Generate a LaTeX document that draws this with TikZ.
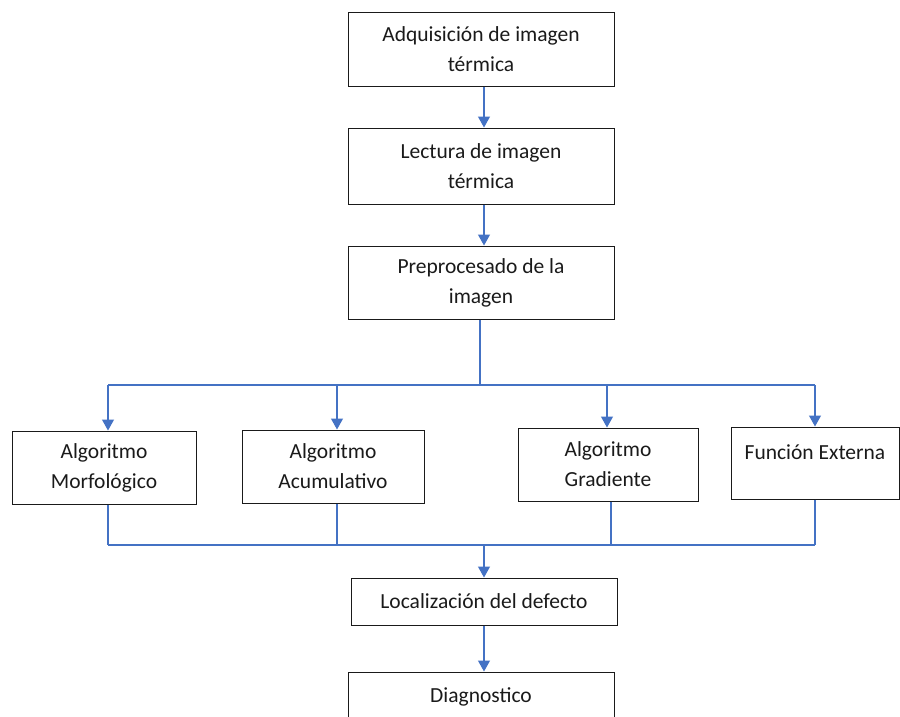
\documentclass[tikz,border=0pt]{standalone}
\usepackage{fontspec}
\setmainfont{Carlito}
\usetikzlibrary{arrows.meta}
\definecolor{flow}{HTML}{4472C4}
\definecolor{ink}{HTML}{1A1A1A}
\begin{document}
\begin{tikzpicture}[x=1pt,y=-1pt,
  box/.style={draw=ink,line width=1pt,inner sep=0pt,align=center,text=ink,
    font=\fontsize{21.5}{30}\selectfont},
  conn/.style={draw=flow,line width=1.2pt},
  arr/.style={conn,-{Triangle[width=12pt,length=11pt]}}]
  \useasboundingbox (0,0) rectangle (900,716);
  % main column
  \node[box,minimum width=266pt,minimum height=74pt] (adq) at (481,49) {Adquisición de imagen\\térmica};
  \node[box,minimum width=266pt,minimum height=76pt] (lec) at (481,166) {Lectura de imagen\\térmica};
  \node[box,minimum width=266pt,minimum height=73pt] (pre) at (481,282.5) {Preprocesado de la\\imagen};
  % algorithm row
  \node[box,minimum width=184pt,minimum height=73pt] (morf) at (104,467.5) {Algoritmo\\Morfológico};
  \node[box,minimum width=182pt,minimum height=73pt] (acum) at (333,466.5) {Algoritmo\\Acumulativo};
  \node[box,minimum width=180pt,minimum height=73pt] (grad) at (608,464.5) {Algoritmo\\Gradiente};
  \node[box,minimum width=168pt,minimum height=72pt] (func) at (815,463) {};
  \node[box,draw=none] (functxt) at ([yshift=-26]func.north) {Función Externa};
  % result column
  \node[box,minimum width=266pt,minimum height=47pt] (loc) at (484,601.5) {Localización del defecto};
  \node[box,minimum width=266pt,minimum height=49pt] (diag) at (481,696.5) {Diagnostico};
  % bus coordinates
  \coordinate (topbus) at (480,385);
  \coordinate (topL) at (108,385);
  \coordinate (topR) at (815,385);
  \coordinate (botbus) at (484,545);
  \coordinate (botL) at (108,545);
  \coordinate (botR) at (815,545);
  % connectors
  \draw[arr] ([xshift=3]adq.south) -- ([xshift=3]lec.north);
  \draw[arr] ([xshift=3]lec.south) -- ([xshift=3]pre.north);
  \draw[conn] ([xshift=-1]pre.south) -- (topbus);
  \draw[conn] (topL) -- (topR);
  \draw[arr] (topL) -- ([xshift=4]morf.north);
  \draw[arr] ([xshift=4]acum.north |- topbus) -- ([xshift=4]acum.north);
  \draw[arr] ([xshift=-1]grad.north |- topbus) -- ([xshift=-1]grad.north);
  \draw[arr] (topR) -- (func.north);
  \draw[conn] ([xshift=4]morf.south) -- (botL);
  \draw[conn] ([xshift=4]acum.south) -- ([xshift=4]acum.south |- botbus);
  \draw[conn] ([xshift=3]grad.south) -- ([xshift=3]grad.south |- botbus);
  \draw[conn] (func.south) -- (botR);
  \draw[conn] (botL) -- (botR);
  \draw[arr] (botbus) -- (loc.north);
  \draw[arr] (loc.south) -- ([xshift=3]diag.north);
\end{tikzpicture}
\end{document}
